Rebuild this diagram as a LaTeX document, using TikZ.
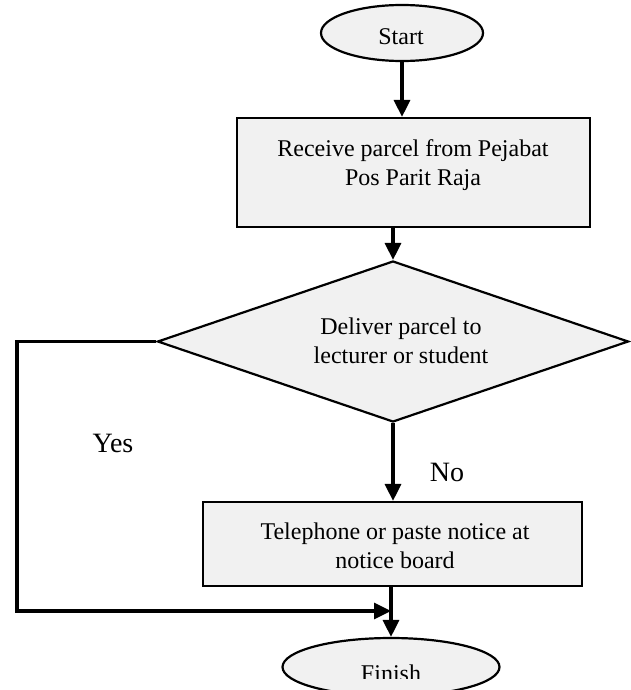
\documentclass[tikz,border=0pt]{standalone}
\usepackage{fontspec}
\setmainfont{Liberation Serif}
\usetikzlibrary{shapes.geometric,arrows.meta}
\begin{document}
\begin{tikzpicture}[x=1pt,y=-1pt,
  boxbase/.style={draw=black, line width=2.2pt, fill=gray!11, inner sep=0pt},
  procbox/.style={boxbase, rectangle},
  term/.style={boxbase, ellipse},
  decide/.style={boxbase, diamond},
  boxtext/.style={font=\fontsize{24}{29}\selectfont, align=center, inner sep=0pt},
  lbl/.style={font=\fontsize{28}{32}\selectfont, inner sep=0pt},
  flow/.style={line width=3.2pt, -{Triangle[length=17pt,width=16pt]}},
]
\fill[white] (0,0) rectangle (630,690);
\useasboundingbox (0,0) rectangle (630,690);

\node[term, minimum width=162pt, minimum height=56pt] (start) at (402,33) {};
\node[boxtext] (starttext) at (401,37) {Start};

\node[procbox, minimum width=353pt, minimum height=109pt] (r1) at (413.5,172.5) {};
\node[boxtext] (r1text) at (413,165) {Receive parcel from Pejabat\\Pos Parit Raja};

\node[decide, minimum width=471pt, minimum height=161pt] (d) at (393,341.5) {};
\node[boxtext] (dtext) at (401,341) {Deliver parcel to\\lecturer or student};

\node[procbox, minimum width=379pt, minimum height=84pt] (r2) at (392.5,544) {};
\node[boxtext] (r2text) at (395,546) {Telephone or paste notice at\\notice board};

\node[term, minimum width=217pt, minimum height=58pt] (fin) at (391,667) {};
\begin{scope}
  \clip (0,0) rectangle (630,678);
  \node[boxtext, anchor=base] (fintext) at (391,681) {Finish};
\end{scope}

\node[lbl] (yes) at (113,443) {Yes};
\node[lbl] (no) at (447,472) {No};

\coordinate (c1) at (17,341.5);
\coordinate (c2) at (17,611);
\coordinate (j) at (391,611);

\draw[flow] (start.south) -- (start.south |- r1.north);
\draw[flow] (d.north |- r1.south) -- (d.north);
\draw[flow] (d.south) -- (d.south |- r2.north);
\draw[flow] (r2.south -| fin.north) -- (fin.north);
\draw[flow, line join=miter] (d.west) -- (c1) -- (c2) -- (j);
\end{tikzpicture}
\end{document}
